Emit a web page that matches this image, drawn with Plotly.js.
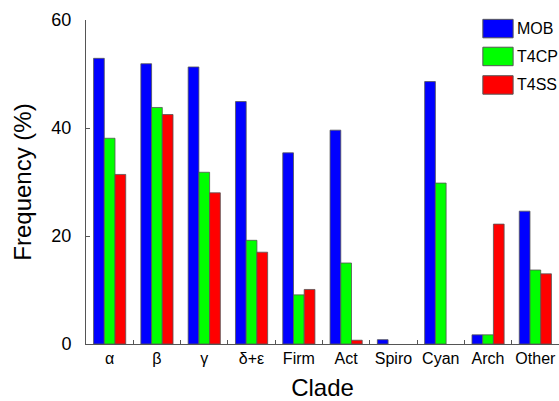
<!DOCTYPE html>
<html>
<head>
<meta charset="utf-8">
<script src="https://cdn.plot.ly/plotly-3.0.1.min.js"></script>
<style>html,body{margin:0;padding:0;background:#fff;}#chart{width:559px;height:401px;}</style>
</head>
<body>
<div id="chart"></div>
<script>
const categories = ["α", "β", "γ", "δ+ε", "Firm", "Act", "Spiro", "Cyan", "Arch", "Other"];
const seriesNames = ["MOB", "T4CP", "T4SS"];
const mob  = [52.9, 51.9, 51.3, 44.9, 35.4, 39.6, 0.8, 48.6, 1.7, 24.6];
const t4cp = [38.1, 43.8, 31.8, 19.2, 9.1, 15.0, 0, 29.8, 1.7, 13.7];
const t4ss = [31.4, 42.5, 28.0, 17.0, 10.1, 0.7, 0, 0, 22.2, 13.0];
const colors = ["#0000ff", "#00ff00", "#ff0000"];
const yTicks = [0, 20, 40, 60];

const values = [mob, t4cp, t4ss];
const traces = values.map((v, i) => ({
  type: "bar",
  name: seriesNames[i],
  x: categories,
  y: v,
  marker: {color: colors[i], line: {color: "#555555", width: v.map(d => d > 0 ? 0.8 : 0)}},
  showlegend: false
}));

// custom legend (boxes + text) in paper coordinates
const shapes = [];
const annotations = [];
const boxX0 = 0.839, boxX1 = 0.903;
const rowTop = [1.002, 0.916, 0.828];
const boxH = 0.057;
seriesNames.forEach((n, i) => {
  shapes.push({type: "rect", xref: "paper", yref: "paper",
    x0: boxX0, x1: boxX1, y0: rowTop[i] - boxH, y1: rowTop[i],
    fillcolor: colors[i], line: {color: "#555555", width: 1}});
  annotations.push({xref: "paper", yref: "paper", x: 0.911, y: rowTop[i] - boxH / 2,
    xanchor: "left", yanchor: "middle", text: n, showarrow: false,
    borderpad: 0, borderwidth: 0,
    font: {family: "Liberation Sans, Arial, sans-serif", size: 16, color: "#000"}});
});

const layout = {
  width: 559, height: 401,
  margin: {l: 86, r: 0, t: 20, b: 57},
  paper_bgcolor: "#fff", plot_bgcolor: "#fff",
  barmode: "group", bargap: 0.32, bargroupgap: 0,
  font: {family: "Liberation Sans, Arial, sans-serif", color: "#000"},
  xaxis: {
    type: "category", range: [-0.5, 9.5],
    showline: true, linecolor: "#555555", linewidth: 1,
    ticks: "inside", tickson: "boundaries", ticklen: 4, tickcolor: "#555555",
    tickangle: 0,
    tickfont: {size: 16, color: "#000"},
    showgrid: false, zeroline: false,
    title: {text: "Clade", font: {size: 24}, standoff: 26}
  },
  yaxis: {
    range: [0, 60], tickvals: yTicks,
    showline: true, linecolor: "#555555", linewidth: 1,
    ticks: "inside", ticklen: 4, tickcolor: "#555555",
    ticklabelstandoff: 10,
    tickfont: {size: 18, color: "#000"},
    showgrid: false, zeroline: false,
    title: {text: "Frequency (%)", font: {size: 24}, standoff: 12}
  },
  shapes: shapes,
  annotations: annotations
};

Plotly.newPlot("chart", traces, layout, {displayModeBar: false, staticPlot: true});
</script>
</body>
</html>
